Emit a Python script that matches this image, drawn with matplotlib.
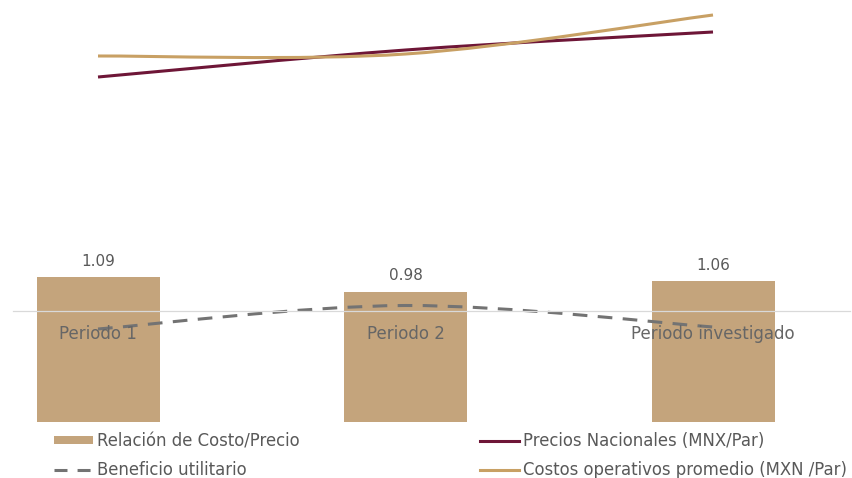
import numpy as np
import matplotlib.pyplot as plt
from matplotlib.path import Path
from matplotlib.patches import PathPatch, Patch
from matplotlib.lines import Line2D

plt.rcParams["font.family"] = ["DejaVu Sans"]

# -----------------------------------------------------------------------------
# Data
# -----------------------------------------------------------------------------
periodos = ["Periodo 1", "Periodo 2", "Periodo investigado"]
relacion_costo_precio = [1.09, 0.98, 1.06]
beneficio_utilitario = [-18.0, 5.5, -16.0]
precios_nacionales = [323.0, 350.0, 368.0]
costos_operativos = [344.0, 346.0, 385.0]

color_barras = "#C4A47C"
color_precios = "#6E1637"
color_costos = "#C8A064"
color_beneficio = "#737373"
color_texto = "#595959"


def smooth_path(xs, ys):
    """Bezier path through the points, same smoothing as a spreadsheet line."""
    pts = np.column_stack([xs, ys]).astype(float)
    n = len(pts)
    verts = [pts[0]]
    codes = [Path.MOVETO]
    for i in range(n - 1):
        p_prev = pts[max(i - 1, 0)]
        p0 = pts[i]
        p1 = pts[i + 1]
        p_next = pts[min(i + 2, n - 1)]
        c1 = p0 + (p1 - p_prev) / 6.0
        c2 = p1 - (p_next - p0) / 6.0
        verts += [c1, c2, p1]
        codes += [Path.CURVE4] * 3
    return Path(verts, codes)


x = np.arange(len(periodos))

fig = plt.figure(figsize=(8.53, 4.78), dpi=100)
W, H = 853.0, 478.0
pos = [13 / W, 56 / H, 837 / W, 422 / H]
xlim = ((13 - 98) / 307.5, (850 - 98) / 307.5)

# -----------------------------------------------------------------------------
# Bars: cost/price ratio
# -----------------------------------------------------------------------------
ax = fig.add_axes(pos)
bars = ax.bar(x, relacion_costo_precio, width=0.4, color=color_barras, zorder=1)
ax.bar_label(bars, labels=[f"{v:.2f}" for v in relacion_costo_precio],
             padding=6, fontsize=11, color=color_texto)
ax.set_xlim(*xlim)
ax.set_ylim(0, 422 / 133)
ax.axis("off")

# -----------------------------------------------------------------------------
# Dashed line: beneficio utilitario, with the category axis at zero
# -----------------------------------------------------------------------------
ax2 = fig.add_axes(pos, sharex=ax)
ax2.patch.set_visible(False)
ax2.add_patch(PathPatch(smooth_path(x, beneficio_utilitario), fill=False,
                        edgecolor=color_beneficio, lw=2.2,
                        linestyle=(0, (4.8, 3.4)), capstyle="butt"))
ax2.set_ylim(-111, 311)
for side in ["left", "right", "top"]:
    ax2.spines[side].set_visible(False)
ax2.spines["bottom"].set_position(("data", 0))
ax2.spines["bottom"].set_color("#D9D9D9")
ax2.spines["bottom"].set_linewidth(0.9)
ax2.set_yticks([])
ax2.set_xticks(x)
ax2.set_xticklabels(periodos, fontsize=12, color="#666666")
ax2.tick_params(axis="x", length=0, pad=10)

# -----------------------------------------------------------------------------
# Smoothed lines: prices and operating costs
# -----------------------------------------------------------------------------
ax3 = fig.add_axes(pos, sharex=ax)
ax3.patch.set_visible(False)
ax3.add_patch(PathPatch(smooth_path(x, precios_nacionales), fill=False,
                        edgecolor=color_precios, lw=2.2, capstyle="butt"))
ax3.add_patch(PathPatch(smooth_path(x, costos_operativos), fill=False,
                        edgecolor=color_costos, lw=2.2, capstyle="butt"))
ax3.set_ylim(-22, 400)
ax3.axis("off")

# -----------------------------------------------------------------------------
# Legend
# -----------------------------------------------------------------------------
leg_kw = dict(frameon=False, fontsize=11.9, handlelength=2.35,
              handleheight=0.4, handletextpad=0.25, labelspacing=0.68,
              borderpad=0, borderaxespad=0, labelcolor=color_texto,
              loc="upper left")

izq = [Patch(facecolor=color_barras),
       Line2D([], [], color=color_beneficio, lw=2.2,
              linestyle=(0, (4.25, 3.3)))]
fig.legend(izq, ["Relación de Costo/Precio", "Beneficio utilitario"],
           bbox_to_anchor=(54 / W, 1 - 432 / H), **leg_kw)

der = [Line2D([], [], color=color_precios, lw=2.2),
       Line2D([], [], color=color_costos, lw=2.2)]
fig.legend(der, ["Precios Nacionales (MNX/Par)",
                 "Costos operativos promedio (MXN /Par)"],
           bbox_to_anchor=(480 / W, 1 - 432 / H), **leg_kw)

fig.savefig("out.png", dpi=100)
